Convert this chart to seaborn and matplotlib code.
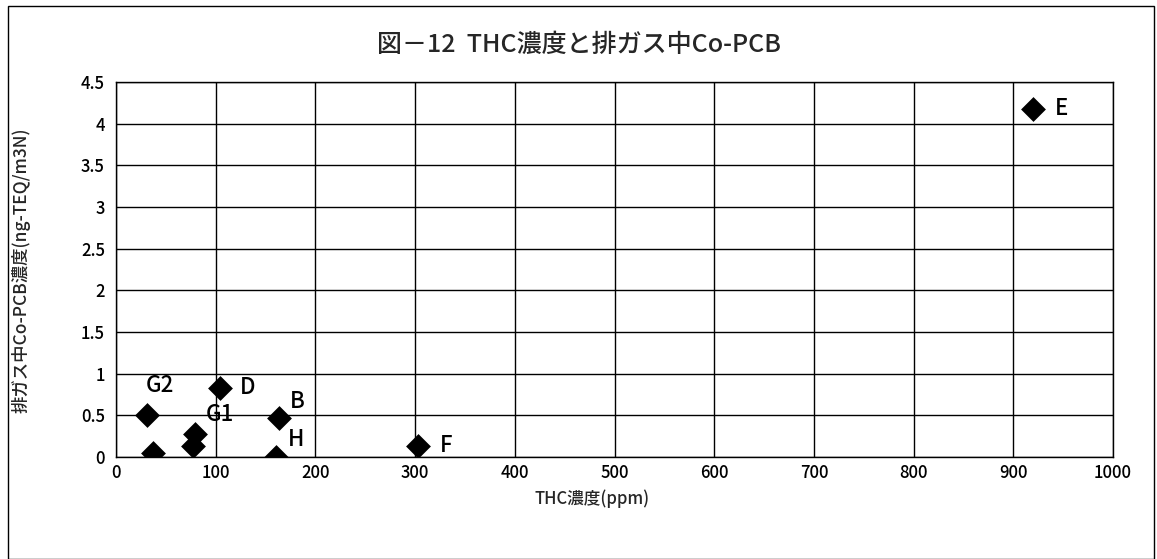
import pandas as pd
import seaborn as sns
import matplotlib.pyplot as plt
from matplotlib.patches import Rectangle
from matplotlib.ticker import FuncFormatter

# data
thc_ppm = [31, 37, 79, 77, 104, 163, 160, 303, 920]
copcb = [0.50, 0.05, 0.27, 0.13, 0.83, 0.47, 0.00, 0.13, 4.18]
labels = ["G2", "", "G1", "", "D", "B", "H", "F", "E"]

x_ticks = list(range(0, 1001, 100))
y_ticks = [0, 0.5, 1, 1.5, 2, 2.5, 3, 3.5, 4, 4.5]

# label offsets in pixels (layout only)
label_offsets = {
    "G2": (13, 30, "center"),
    "G1": (25, 20, "center"),
    "D": (20, 0, "left"),
    "B": (11, 16, "left"),
    "H": (12, 17, "left"),
    "F": (22, 1, "left"),
    "E": (22, 0, "left"),
}

df = pd.DataFrame({"thc": thc_ppm, "copcb": copcb, "label": labels})

sns.set_theme(style="white")
plt.rcParams["font.family"] = ["Noto Sans CJK JP", "DejaVu Sans"]
plt.rcParams["font.weight"] = "medium"

fig = plt.figure(figsize=(11.57, 5.59), dpi=100)
ax = fig.add_axes([0.1003, 0.1825, 0.8617, 0.6708])

sns.scatterplot(data=df, x="thc", y="copcb", marker="D", s=160,
                color="black", edgecolor="black", linewidth=0, ax=ax, zorder=3)

for _, row in df.iterrows():
    if row["label"] == "":
        continue
    dx, dy, ha = label_offsets[row["label"]]
    ax.annotate(row["label"], (row["thc"], row["copcb"]), xytext=(dx, dy),
                textcoords="offset pixels", ha=ha, va="center", fontsize=16,
                color="black", zorder=4)

ax.set_xlim(0, 1000)
ax.set_ylim(0, 4.5)
ax.set_xticks(x_ticks)
ax.set_yticks(y_ticks)
ax.yaxis.set_major_formatter(FuncFormatter(lambda v, p: f"{v:g}"))
ax.tick_params(labelsize=12, length=0, pad=8, colors="black")
ax.tick_params(axis="x", pad=5)
ax.grid(True, color="black", linewidth=1)
for sp in ax.spines.values():
    sp.set_color("black")
    sp.set_linewidth(1)
ax.set_xlabel("")
ax.set_ylabel("")

fig.text(0.50, 0.92, "図－12  THC濃度と排ガス中Co-PCB", ha="center", va="center",
         fontsize=18)
fig.text(0.512, 0.108, "THC濃度(ppm)", ha="center", va="center", fontsize=12)
fig.text(0.018, 0.517, "排ガス中Co-PCB濃度(ng-TEQ/m3N)", ha="center", va="center",
         rotation=90, fontsize=12.5)

fig.patches.append(Rectangle((0.007, 0.0), 0.99, 0.99, transform=fig.transFigure,
                             fill=False, edgecolor="black", linewidth=1))

fig.savefig("out.png", dpi=100)
